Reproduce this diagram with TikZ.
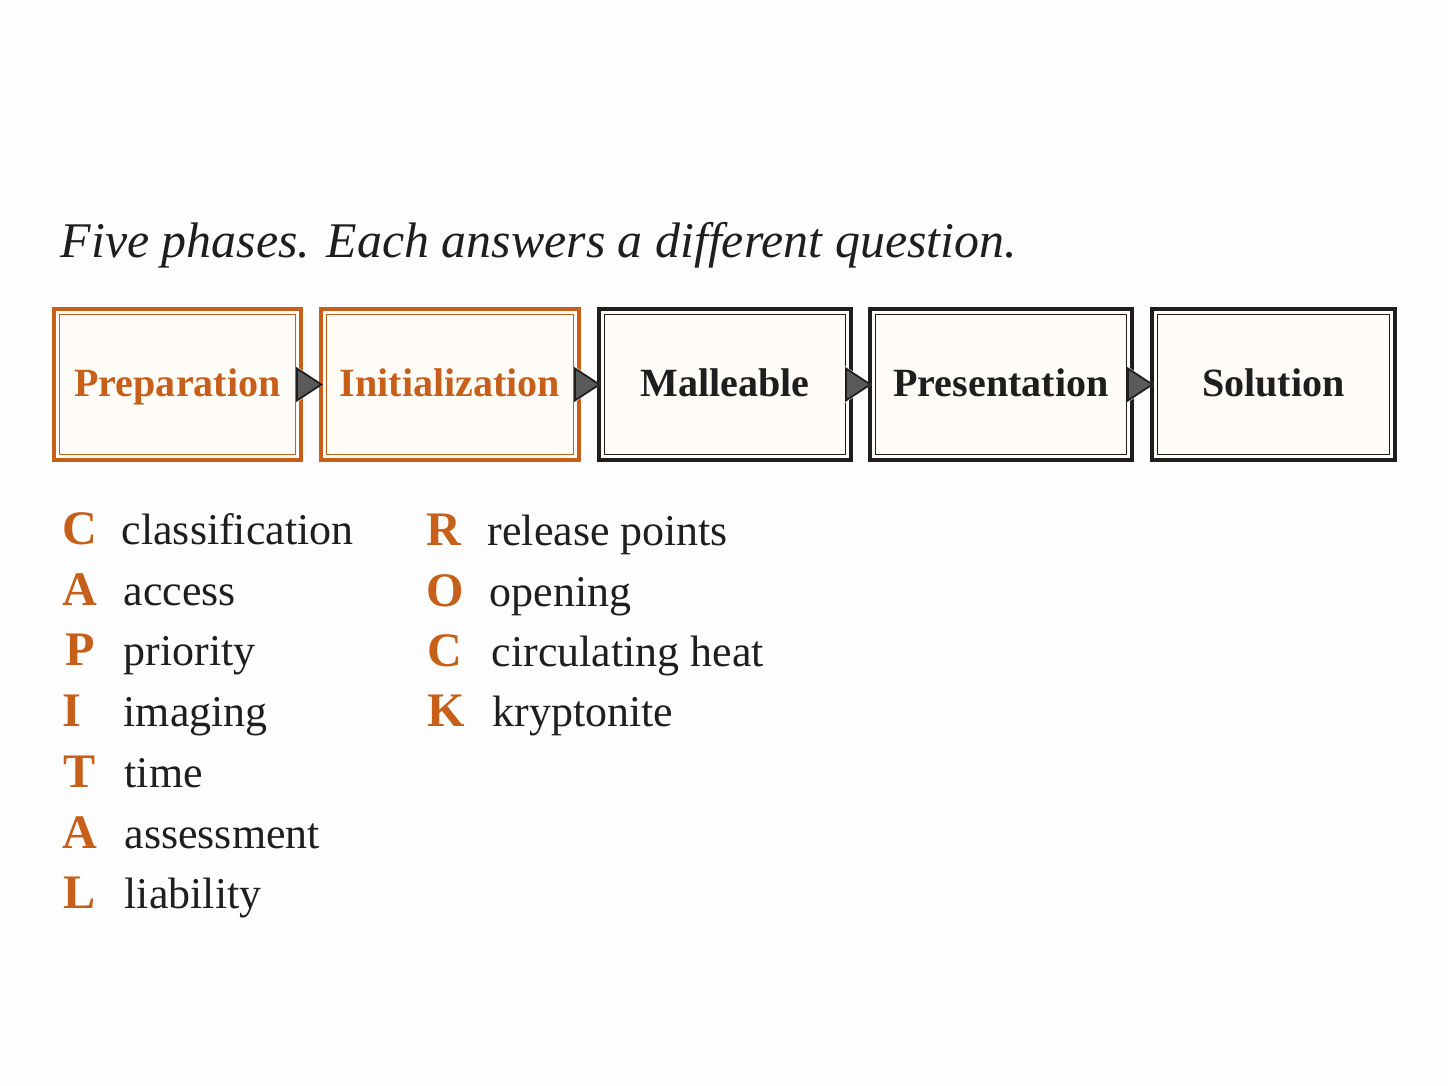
\documentclass[tikz,border=0pt]{standalone}
\usepackage{fontspec}
\setmainfont{Liberation Serif}
\usepackage{tikz}
\usetikzlibrary{arrows.meta}

\definecolor{rust}{HTML}{C65F1A}
\definecolor{ink}{HTML}{1E1E1E}
\definecolor{paper}{HTML}{FDFDFD}
\definecolor{cream}{HTML}{FFFCF7}
\definecolor{tipgray}{HTML}{5A5A5A}

\tikzset{
  phase/.style={draw=ink, fill=cream, line width=0.04cm, minimum height=1.51cm, text=ink,
    text height=1.95ex, text depth=0.45ex, font=\fontsize{11.4}{13}\selectfont\bfseries},
  donephase/.style={phase, draw=rust, text=rust},
  inner/.style={draw=ink, line width=0.014cm},
  flow/.style={draw=ink, line width=0.5pt, shorten >=-0.04cm,
    -{Triangle[length=0.27cm,width=0.35cm,fill=tipgray]},
    preaction={draw=white, line width=2.2pt, shorten >=-0.04cm, -{Triangle[length=0.27cm,width=0.35cm]}}},
  letter/.style={anchor=base, inner sep=0pt, text=rust, font=\fontsize{13.7}{16}\selectfont\bfseries},
  word/.style={anchor=base west, inner sep=0pt, text=ink, font=\fontsize{12.5}{15}\selectfont}
}

\begin{document}
\begin{tikzpicture}
        \fill[paper] (0,0) rectangle (14.48,-10.86);
        \useasboundingbox (0,0) rectangle (14.48,-10.86);
        % title
        \node[anchor=base west, inner sep=0pt, text=ink, font=\fontsize{14.2}{17}\selectfont\itshape] (title) at (0.60,-2.58) {Five phases. Each answers a different question.};
        % phases
        \node[donephase, minimum width=2.47cm] (prep) at (1.775,-3.845) {Preparation};
        \node[donephase, minimum width=2.58cm] (init) at (4.50,-3.845) {Initialization};
        \node[phase, minimum width=2.52cm] (mall) at (7.25,-3.845) {Malleable};
        \node[phase, minimum width=2.62cm] (pres) at (10.01,-3.845) {Presentation};
        \node[phase, minimum width=2.43cm] (sol) at (12.735,-3.845) {Solution};
        \draw[inner, draw=rust] ([shift={(0.075,-0.075)}]prep.north west) rectangle ([shift={(-0.075,0.075)}]prep.south east);
        \draw[inner, draw=rust] ([shift={(0.075,-0.075)}]init.north west) rectangle ([shift={(-0.075,0.075)}]init.south east);
        \draw[inner] ([shift={(0.075,-0.075)}]mall.north west) rectangle ([shift={(-0.075,0.075)}]mall.south east);
        \draw[inner] ([shift={(0.075,-0.075)}]pres.north west) rectangle ([shift={(-0.075,0.075)}]pres.south east);
        \draw[inner] ([shift={(0.075,-0.075)}]sol.north west) rectangle ([shift={(-0.075,0.075)}]sol.south east);
        \draw[flow] (prep.east) -- (init.west);
        \draw[flow] (init.east) -- (mall.west);
        \draw[flow] (mall.east) -- (pres.west);
        \draw[flow] (pres.east) -- (sol.west);
        % CAPITAL
        \node[letter] (c1) at (0.80,-5.45) {C};  \node[word] (w1) at (1.21,-5.45) {classification};
        \node[letter] (a1) at (0.80,-6.06) {A};  \node[word] (w2) at (1.23,-6.06) {access};
        \node[letter] (p1) at (0.80,-6.66) {P};  \node[word] (w3) at (1.23,-6.66) {priority};
        \node[letter] (i1) at (0.72,-7.27) {I};  \node[word] (w4) at (1.23,-7.27) {imaging};
        \node[letter] (t1) at (0.80,-7.88) {T};  \node[word] (w5) at (1.24,-7.88) {time};
        \node[letter] (a2) at (0.80,-8.49) {A};  \node[word] (w6) at (1.24,-8.49) {assessment};
        \node[letter] (l1) at (0.80,-9.09) {L};  \node[word] (w7) at (1.24,-9.09) {liability};
        % ROCK
        \node[letter] (r1) at (4.44,-5.46) {R};  \node[word] (w8) at (4.87,-5.46) {release points};
        \node[letter] (o1) at (4.45,-6.07) {O};  \node[word] (w9) at (4.89,-6.07) {opening};
        \node[letter] (c2) at (4.45,-6.67) {C};  \node[word] (w10) at (4.91,-6.67) {circulating heat};
        \node[letter] (k1) at (4.46,-7.27) {K};  \node[word] (w11) at (4.92,-7.27) {kryptonite};
    \end{tikzpicture}
\end{document}
